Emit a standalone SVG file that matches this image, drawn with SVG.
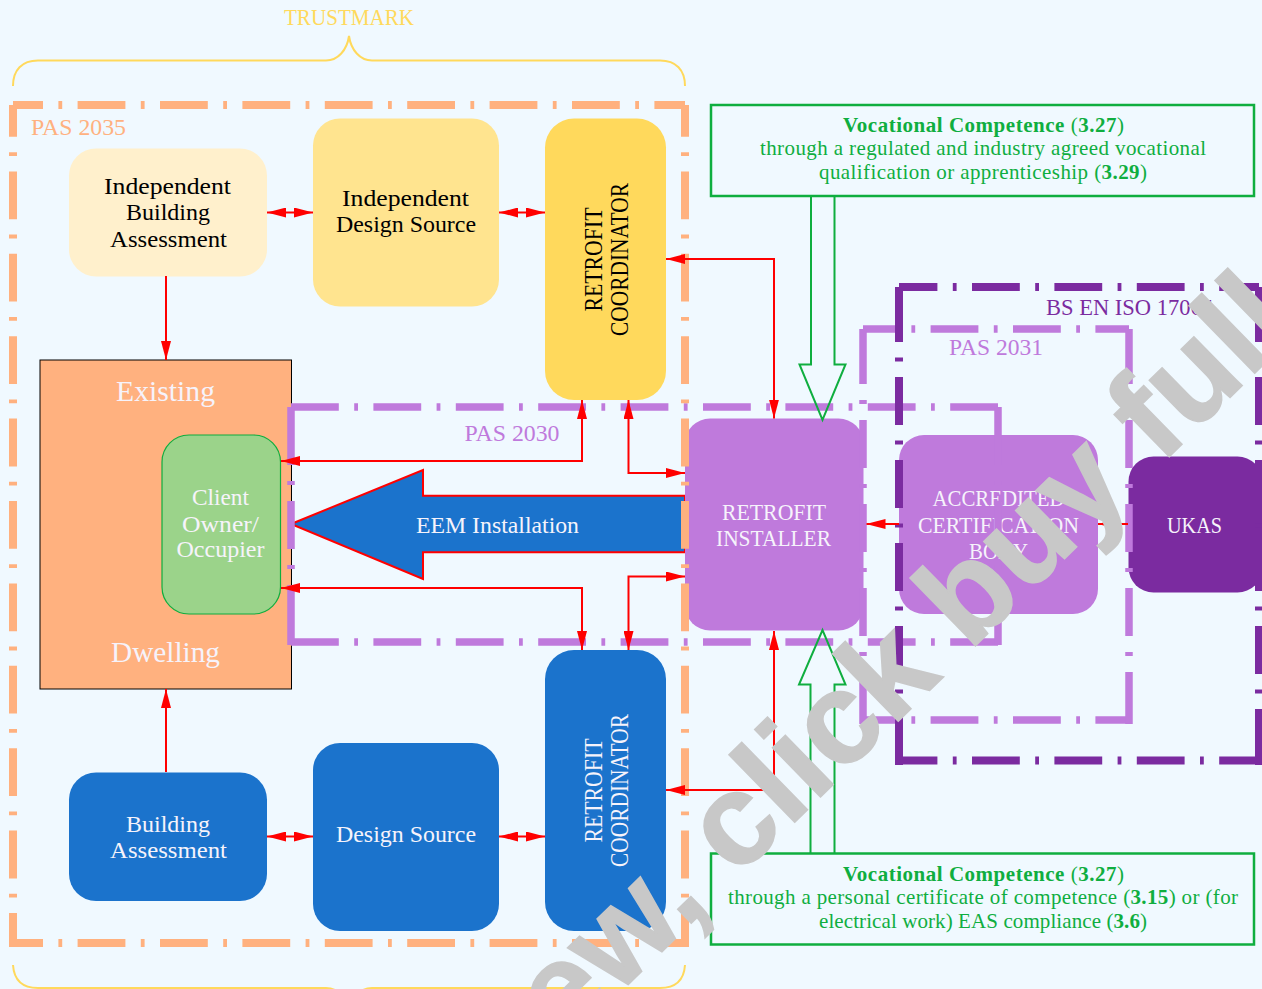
<svg xmlns="http://www.w3.org/2000/svg" width="1262" height="989" viewBox="0 0 1262 989">
<style>
text{font-family:"Liberation Serif",serif;font-size:23px;text-anchor:middle}
.w{fill:#f6f3fb}.k{fill:#000}.g{fill:#0fae3f;font-size:21px}
.box{stroke:none}
.fr{fill:none;stroke-width:8}
.or{stroke:#ffb17f}.lp{stroke:#bf7adc;stroke-width:7.5}.dp{stroke:#7b2ba0;stroke-width:8}
.c path,.c line{fill:none;stroke:#f00;stroke-width:2}
.hollow{fill:none;stroke:#0fae3f;stroke-width:2}
.gb{fill:#f0f9ff;stroke:#0fae3f;stroke-width:2.5}
.brace{fill:none;stroke:#ffd95c;stroke-width:2}
.wm{font-family:"Liberation Sans",sans-serif;font-weight:bold;font-size:130px;fill:#c8c8c8;stroke:#c8c8c8;stroke-width:1.5;text-anchor:end}
</style>
<defs>
<marker id="a" viewBox="0 0 19 10" refX="19" refY="5" markerWidth="19" markerHeight="10" markerUnits="userSpaceOnUse" orient="auto-start-reverse"><path d="M0 0L19 5L0 10z" fill="#f00"/></marker>
</defs>
<rect width="1262" height="989" fill="#f0f9ff"/>
<g id="braces">
<path class="brace" d="M13 86C13 70 22 60.500 38 60.500H326C338 60.500 347 50 349 36C351 50 360 60.500 372 60.500H660C676 60.500 685 70 685 86"/>
<path class="brace" d="M13 965C14 980 22 988 38 988H326C338 988 347 998 349 1012C351 998 360 988 372 988H660C676 988 684 980 685 965"/>
<text x="349" y="25" fill="#ffd95c" textLength="130" lengthAdjust="spacingAndGlyphs">TRUSTMARK</text>
</g>
<g id="dwelling"><rect x="40" y="360" width="251.500" height="329" fill="#ffb17f" stroke="#000" stroke-width="1"/>
<text class="w" x="165.500" y="401" style="font-size:29px" textLength="99" lengthAdjust="spacingAndGlyphs">Existing</text>
<text class="w" x="165.500" y="662" style="font-size:29px" textLength="109" lengthAdjust="spacingAndGlyphs">Dwelling</text></g>
<g id="client"><rect x="162" y="435" width="118.500" height="179" rx="27" fill="#9bd38a" stroke="#0fae3f" stroke-width="1.200"/>
<text class="w" x="220.500" y="505" textLength="57" lengthAdjust="spacingAndGlyphs">Client</text>
<text class="w" x="220.500" y="532" textLength="77" lengthAdjust="spacingAndGlyphs">Owner/</text>
<text class="w" x="220.500" y="557" textLength="88" lengthAdjust="spacingAndGlyphs">Occupier</text></g>
<g id="independent-building-assessment"><rect x="69" y="148.500" width="198" height="128" rx="27" fill="#fff0cc"/>
<text class="k" x="167.500" y="194" textLength="127" lengthAdjust="spacingAndGlyphs">Independent</text>
<text class="k" x="168" y="220" textLength="84" lengthAdjust="spacingAndGlyphs">Building</text>
<text class="k" x="168.500" y="247" textLength="117" lengthAdjust="spacingAndGlyphs">Assessment</text></g>
<g id="independent-design-source"><rect x="313" y="118.500" width="186" height="188" rx="27" fill="#ffe48f"/>
<text class="k" x="405.500" y="206" textLength="127" lengthAdjust="spacingAndGlyphs">Independent</text>
<text class="k" x="406" y="232" textLength="140" lengthAdjust="spacingAndGlyphs">Design Source</text></g>
<g id="retrofit-coordinator-top"><rect x="545" y="118.500" width="121" height="281.500" rx="29" fill="#ffd95c"/>
<text class="k" transform="translate(602 259.500) rotate(-90)" style="font-size:26px" textLength="104" lengthAdjust="spacingAndGlyphs">RETROFIT</text>
<text class="k" transform="translate(627.500 259.500) rotate(-90)" style="font-size:26px" textLength="153" lengthAdjust="spacingAndGlyphs">COORDINATOR</text></g>
<g id="building-assessment"><rect x="69" y="772.500" width="198" height="128.500" rx="27" fill="#1b73cc"/>
<text class="w" x="168" y="832" textLength="84" lengthAdjust="spacingAndGlyphs">Building</text>
<text class="w" x="168.500" y="858" textLength="117" lengthAdjust="spacingAndGlyphs">Assessment</text></g>
<g id="design-source"><rect x="313" y="743" width="186" height="188" rx="27" fill="#1b73cc"/>
<text class="w" x="406" y="842" textLength="140" lengthAdjust="spacingAndGlyphs">Design Source</text></g>
<g id="retrofit-coordinator-bottom"><rect x="545" y="650" width="121" height="281" rx="29" fill="#1b73cc"/>
<text class="w" transform="translate(602 790.500) rotate(-90)" style="font-size:26px" textLength="104" lengthAdjust="spacingAndGlyphs">RETROFIT</text>
<text class="w" transform="translate(627.500 790.500) rotate(-90)" style="font-size:26px" textLength="153" lengthAdjust="spacingAndGlyphs">COORDINATOR</text></g>
<g id="eem-installation"><path d="M291 524L423 470V495.700H685V552.300H423V579z" fill="#1b73cc" stroke="#f00" stroke-width="2"/>
<text class="w" x="497.500" y="533" textLength="163" lengthAdjust="spacingAndGlyphs">EEM Installation</text></g>
<g id="retrofit-installer"><rect x="685" y="418.500" width="178.500" height="212" rx="25" fill="#bf7adc"/>
<text class="w" x="774" y="520" textLength="104" lengthAdjust="spacingAndGlyphs">RETROFIT</text>
<text class="w" x="773.500" y="546" textLength="115" lengthAdjust="spacingAndGlyphs">INSTALLER</text></g>
<g id="accredited-certification-body"><rect x="899" y="435" width="199" height="179" rx="25" fill="#bf7adc"/>
<text class="w" x="998.500" y="506" textLength="132" lengthAdjust="spacingAndGlyphs">ACCREDITED</text>
<text class="w" x="998.500" y="533" textLength="161" lengthAdjust="spacingAndGlyphs">CERTIFICATION</text>
<text class="w" x="998.500" y="559" textLength="59" lengthAdjust="spacingAndGlyphs">BODY</text></g>
<g id="ukas"><rect x="1128.500" y="456.500" width="134" height="136" rx="25" fill="#7b2ba0"/>
<text class="w" x="1194.500" y="533" textLength="55" lengthAdjust="spacingAndGlyphs">UKAS</text></g>
<g id="frames">
<g id="pas-2030"><path class="fr lp" stroke-dasharray="47.800 15.400 3.800 15.400" d="M291 407H999"/>
<path class="fr lp" stroke-dasharray="47.800 15.400 3.800 15.400" d="M291 642H999"/>
<path class="fr lp" stroke-dasharray="58 16 4 16 48 16 4 16 60" d="M291 407V646M998 407V646"/>
<text x="512" y="441" fill="#bf7adc" textLength="95" lengthAdjust="spacingAndGlyphs">PAS 2030</text></g>
<g id="pas-2035"><path class="fr or" stroke-dasharray="47.800 15.400 3.800 15.400" stroke-dashoffset="17.800" d="M13 105H685M13 943H685"/>
<path class="fr or" stroke-dasharray="47.800 15.400 3.800 15.400" stroke-dashoffset="16" d="M13 105V947M685 105V947"/>
<text x="78.500" y="135" fill="#ffb17f" textLength="95" lengthAdjust="spacingAndGlyphs">PAS 2035</text></g>
<g id="pas-2031"><path class="fr lp" stroke-dasharray="47.800 15.400 3.800 15.400" stroke-dashoffset="14.800" d="M863 329H1129M863 720H1129"/>
<path class="fr lp" stroke-dasharray="55 16 4 16 48 16 4 16 48 16 4 16 48 16 4 16 60" d="M863 329V724M1129 329V724"/>
<text x="996" y="355" fill="#bf7adc" textLength="94" lengthAdjust="spacingAndGlyphs">PAS 2031</text></g>
<g id="bs-en-iso-17065"><path class="fr dp" stroke-dasharray="47.800 15.400 3.800 15.400" stroke-dashoffset="9.400" d="M899 287H1259M899 760.500H1259"/>
<path class="fr dp" stroke-dasharray="55 15.500 4 15.500 48 15.500 4 15.500 48 15.500 4 15.500 48 15.500 4 15.500 48 15.500 4 15.500 60" d="M899 287V765M1259 287V765"/>
<text x="1129.500" y="315" fill="#7b2ba0" textLength="167" lengthAdjust="spacingAndGlyphs">BS EN ISO 17065</text></g>
</g>
<g id="connectors" class="c">
<path marker-start="url(#a)" marker-end="url(#a)" d="M267 212.500H313"/>
<path marker-start="url(#a)" marker-end="url(#a)" d="M499 212.500H545"/>
<path marker-end="url(#a)" d="M166 276V360"/>
<path marker-start="url(#a)" marker-end="url(#a)" d="M666 259H774V418.500"/>
<path marker-start="url(#a)" marker-end="url(#a)" d="M281 461H582V400"/>
<path marker-start="url(#a)" marker-end="url(#a)" d="M628.500 400V473H685"/>
<path marker-start="url(#a)" marker-end="url(#a)" d="M281 588H582V650"/>
<path marker-start="url(#a)" marker-end="url(#a)" d="M628.500 650V576.500H685"/>
<path marker-start="url(#a)" marker-end="url(#a)" d="M666 790H774V631"/>
<path marker-start="url(#a)" marker-end="url(#a)" d="M267 836.500H313"/>
<path marker-start="url(#a)" marker-end="url(#a)" d="M499 836.500H545"/>
<path marker-end="url(#a)" d="M166 772V689"/>
<path marker-end="url(#a)" d="M899 524H866.500"/>
<path marker-end="url(#a)" d="M1128 524H1098"/>
<path class="hollow" d="M811 196V364.500H799.500L822.500 420L845.500 364.500H834.500V196" style="stroke:#0fae3f"/>
<path class="hollow" d="M810.500 853V684.500H799L822.500 630L845.500 684.500H834.500V853" style="stroke:#0fae3f"/>
</g>
<g id="competence-top"><rect class="gb" x="711" y="105" width="543" height="91"/>
<text class="g" x="983.500" y="132" textLength="281"><tspan font-weight="bold">Vocational Competence</tspan> (<tspan font-weight="bold">3.27</tspan>)</text>
<text class="g" x="983" y="155" textLength="446">through a regulated and industry agreed vocational</text>
<text class="g" x="983" y="179" textLength="328">qualification or apprenticeship (<tspan font-weight="bold">3.29</tspan>)</text></g>
<g id="competence-bottom"><rect class="gb" x="711" y="853.500" width="543" height="91"/>
<text class="g" x="983.500" y="881" textLength="281"><tspan font-weight="bold">Vocational Competence</tspan> (<tspan font-weight="bold">3.27</tspan>)</text>
<text class="g" x="983" y="904" textLength="510">through a personal certificate of competence (<tspan font-weight="bold">3.15</tspan>) or (for</text>
<text class="g" x="983" y="928" textLength="328">electrical work) EAS compliance (<tspan font-weight="bold">3.6</tspan>)</text></g>
<text class="wm" transform="translate(1300 329) rotate(-44.300)">ew, click buy full</text>
</svg>
